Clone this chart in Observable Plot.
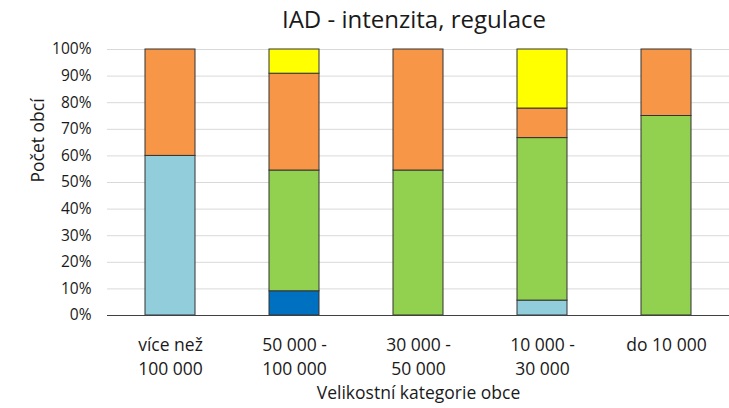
<!DOCTYPE html>
<html>
<head>
<meta charset="utf-8">
<script src="https://cdn.jsdelivr.net/npm/d3@7"></script>
<script src="https://cdn.jsdelivr.net/npm/@observablehq/plot@0.6"></script>
<style>
  html, body { margin: 0; padding: 0; background: #fff; }
  #wrap { width: 729px; height: 408px; overflow: hidden; font-family: "Open Sans", sans-serif; }
  #title { box-sizing: border-box; width: 729px; height: 36px; padding-left: 99px; text-align: center; font-size: 24px; line-height: 38px; color: #1a1a1a; white-space: nowrap; }
</style>
</head>
<body>
<div id="wrap">
  <div id="title">IAD - intenzita, regulace</div>
  <div id="chart"></div>
</div>
<script>
const categories = ["více než\n100 000", "50 000 -\n100 000", "30 000 -\n50 000", "10 000 -\n30 000", "do 10 000"];
const seriesNames = ["tmavě modrá", "světle modrá", "zelená", "oranžová", "žlutá"];
const seriesColors = ["#0070C0", "#92CDDC", "#92D050", "#F79646", "#FFFF00"];
const darkBlue  = [0, 9.1, 0, 0, 0];
const lightBlue = [60, 0, 0, 5.6, 0];
const green     = [0, 45.4, 54.5, 61.1, 75];
const orange    = [40, 36.4, 45.5, 11.1, 25];
const yellow    = [0, 9.1, 0, 22.2, 0];
const yTicks = [0, 10, 20, 30, 40, 50, 60, 70, 80, 90, 100];

const seriesValues = [darkBlue, lightBlue, green, orange, yellow];
const rows = [];
seriesValues.forEach((vals, si) => {
  vals.forEach((v, ci) => {
    rows.push({category: categories[ci], series: seriesNames[si], value: v});
  });
});

const chart = Plot.plot({
  width: 729,
  height: 372,
  marginTop: 13,
  marginBottom: 93,
  marginLeft: 107,
  marginRight: 0,
  style: {fontFamily: "Open Sans, sans-serif", color: "#1a1a1a", background: "#fff"},
  x: {domain: categories, paddingInner: 0.6, paddingOuter: 0.3, label: null},
  y: {domain: [0, 100], label: null},
  color: {domain: seriesNames, range: seriesColors},
  marks: [
    Plot.gridY(yTicks, {stroke: "#d9d9d9", strokeOpacity: 1, strokeWidth: 1}),
    Plot.barY(rows.filter(d => d.value > 0), Plot.stackY({order: seriesNames}, {
      x: "category", y: "value", fill: "series", stroke: "#333", strokeWidth: 1
    })),
    Plot.axisY(yTicks, {tickSize: 0, tickPadding: 16, fontSize: 15.5, tickFormat: d => d + "%", label: null}),
    Plot.axisX({tickSize: 0, tickPadding: 19, fontSize: 17.5, lineHeight: 1.36, label: null}),
    Plot.ruleX([0], {frameAnchor: "left", stroke: "#8c8c8c"}),
    Plot.ruleY([0], {stroke: "#404040"}),
    Plot.text(["Počet obcí"], {frameAnchor: "left", dx: -69, rotate: -90, fontSize: 17.5, fill: "#1a1a1a"}),
    Plot.text(["Velikostní kategorie obce"], {frameAnchor: "bottom", dy: 83, fontSize: 17.5, fill: "#1a1a1a"})
  ]
});
document.getElementById("chart").appendChild(chart);
</script>
</body>
</html>
